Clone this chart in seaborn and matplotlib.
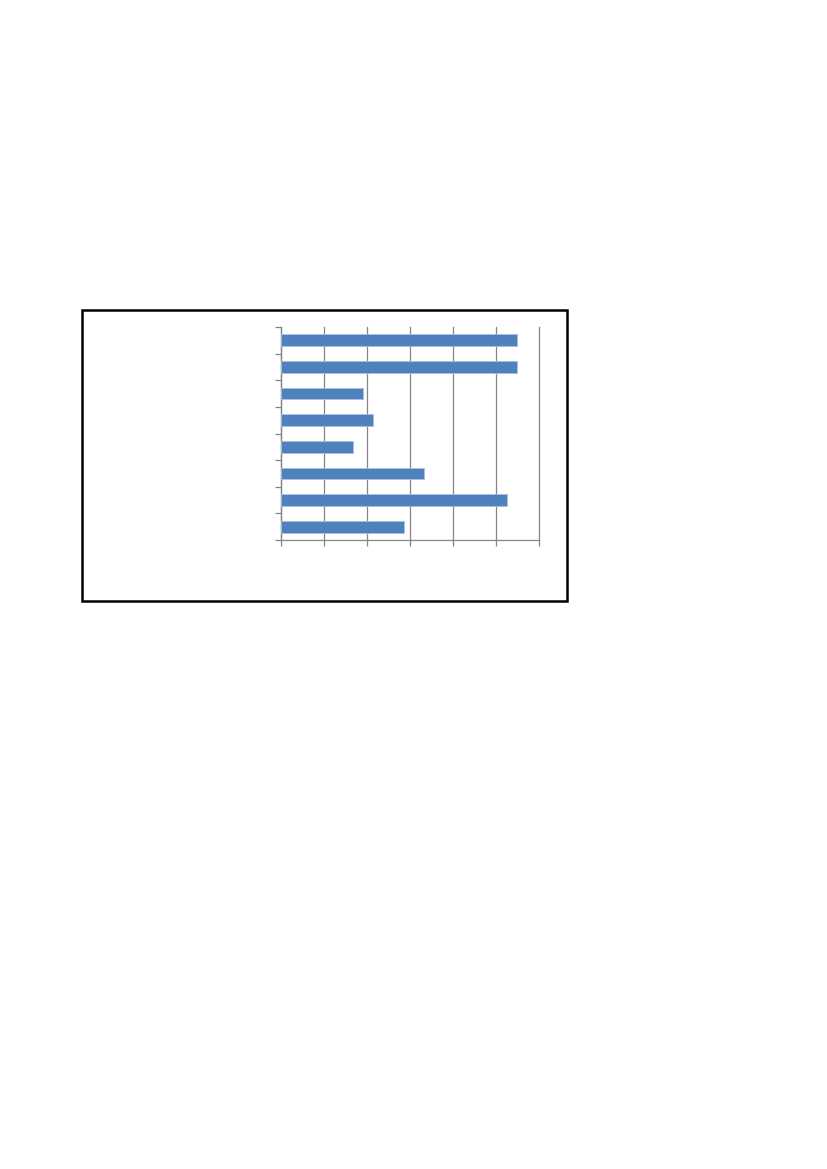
import pandas as pd
import seaborn as sns
import matplotlib.pyplot as plt
from matplotlib.patches import Rectangle

# Dados (sem rótulos visíveis)
categorias = ['c1', 'c2', 'c3', 'c4', 'c5', 'c6', 'c7', 'c8']
valores = [5.48, 5.48, 1.91, 2.14, 1.67, 3.33, 5.25, 2.86]

df = pd.DataFrame({'categoria': categorias, 'valor': valores})

W, H = 827, 1169
fig = plt.figure(figsize=(W / 100, H / 100), dpi=100)
ax = fig.add_axes([281 / W, 1 - 540 / H, (539 - 281) / W, (540 - 327) / H])

sns.barplot(data=df, x='valor', y='categoria', orient='h', color='#4F81BD',
            width=0.44, saturation=1, edgecolor='#A9C0E0', linewidth=0.6, ax=ax, zorder=3)

cinza = '#868686'
ax.set_xlim(0, 6)
ax.set_ylim(7.5, -0.5)
ax.set_xticks(range(7))
ax.set_xticklabels([])
ax.set_yticks([i - 0.5 for i in range(9)])
ax.set_yticklabels([])
ax.set_xlabel('')
ax.set_ylabel('')
ax.grid(axis='x', color=cinza, linewidth=0.9, zorder=0)
for linha in ax.get_xgridlines():
    linha.set_clip_on(False)
ax.set_axisbelow(True)
ax.tick_params(axis='both', color=cinza, length=4, width=0.9)
for lado in ['top', 'right']:
    ax.spines[lado].set_visible(False)
for lado in ['left', 'bottom']:
    ax.spines[lado].set_color(cinza)
    ax.spines[lado].set_linewidth(0.9)

# Moldura do gráfico
fig.patches.append(Rectangle((82 / W, 1 - 601 / H), (567 - 82) / W, (601 - 310) / H,
                             transform=fig.transFigure, fill=False,
                             edgecolor='black', linewidth=1.8))

fig.savefig('out.png', dpi=100)
